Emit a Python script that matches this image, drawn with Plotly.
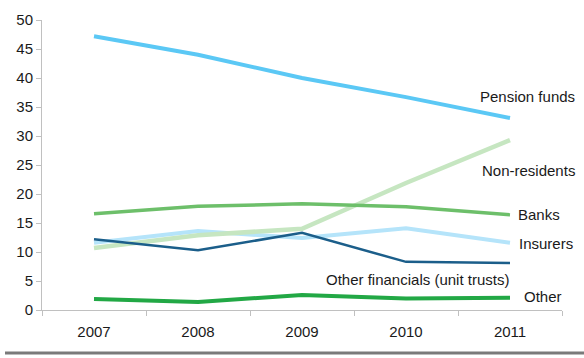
import plotly.graph_objects as go

years = ["2007", "2008", "2009", "2010", "2011"]
pension = [47.2, 44.0, 40.0, 36.7, 33.1]
non_residents = [10.7, 12.9, 14.0, 21.9, 29.3]
banks = [16.6, 17.9, 18.3, 17.8, 16.4]
insurers = [11.6, 13.6, 12.4, 14.1, 11.6]
other_fin = [12.2, 10.3, 13.3, 8.3, 8.1]
other = [1.9, 1.4, 2.6, 2.0, 2.1]

series = [
    ("Insurers", insurers, "#B5E4FA", 4),
    ("Non-residents", non_residents, "#C6E6C1", 4.5),
    ("Banks", banks, "#6DBF6A", 3.5),
    ("Other financials (unit trusts)", other_fin, "#1B5E8A", 2.5),
    ("Other", other, "#22A845", 4),
    ("Pension funds", pension, "#5BC8F5", 4),
]

fig = go.Figure()
for name, vals, col, w in series:
    fig.add_trace(go.Scatter(x=years, y=vals, mode="lines", name=name,
                             line=dict(color=col, width=w), showlegend=False))

labels = [
    ("Pension funds", 527, 96),
    ("Non-residents", 528, 170),
    ("Banks", 539, 214),
    ("Insurers", 546, 243),
    ("Other financials (unit trusts)", 417, 279),
    ("Other", 543, 296),
]
L, T, W, H = 42, 20, 520, 290
for txt, px, py in labels:
    fig.add_annotation(x=(px - L) / W, y=1 - (py - T) / H, xref="paper", yref="paper",
                       text=txt, showarrow=False, xanchor="center", yanchor="middle",
                       font=dict(size=15, color="#1a1a1a"))

fig.add_shape(type="line", xref="paper", yref="paper",
              x0=(5 - L) / W, x1=(584 - L) / W, y0=1 - (353 - T) / H, y1=1 - (353 - T) / H,
              line=dict(color="#7a7a7a", width=3))

fig.update_layout(
    width=584, height=358,
    margin=dict(l=L, r=584 - L - W, t=T, b=358 - T - H),
    plot_bgcolor="white", paper_bgcolor="white",
    font=dict(family="Liberation Sans, Arial", size=15, color="#1a1a1a"),
    xaxis=dict(type="category", showgrid=False, showline=True, linecolor="#c0c0c0",
               linewidth=1, ticks="outside", tickson="boundaries", ticklen=5,
               tickcolor="#c0c0c0", tickfont=dict(size=15), ticklabelstandoff=8,
               range=[-0.5, 4.5]),
    yaxis=dict(range=[0, 50], dtick=5, showgrid=False, showline=True, linecolor="#c0c0c0",
               linewidth=1, ticks="outside", ticklen=5, tickcolor="#c0c0c0",
               tickfont=dict(size=15), zeroline=False),
)
fig.write_html("out.html")
